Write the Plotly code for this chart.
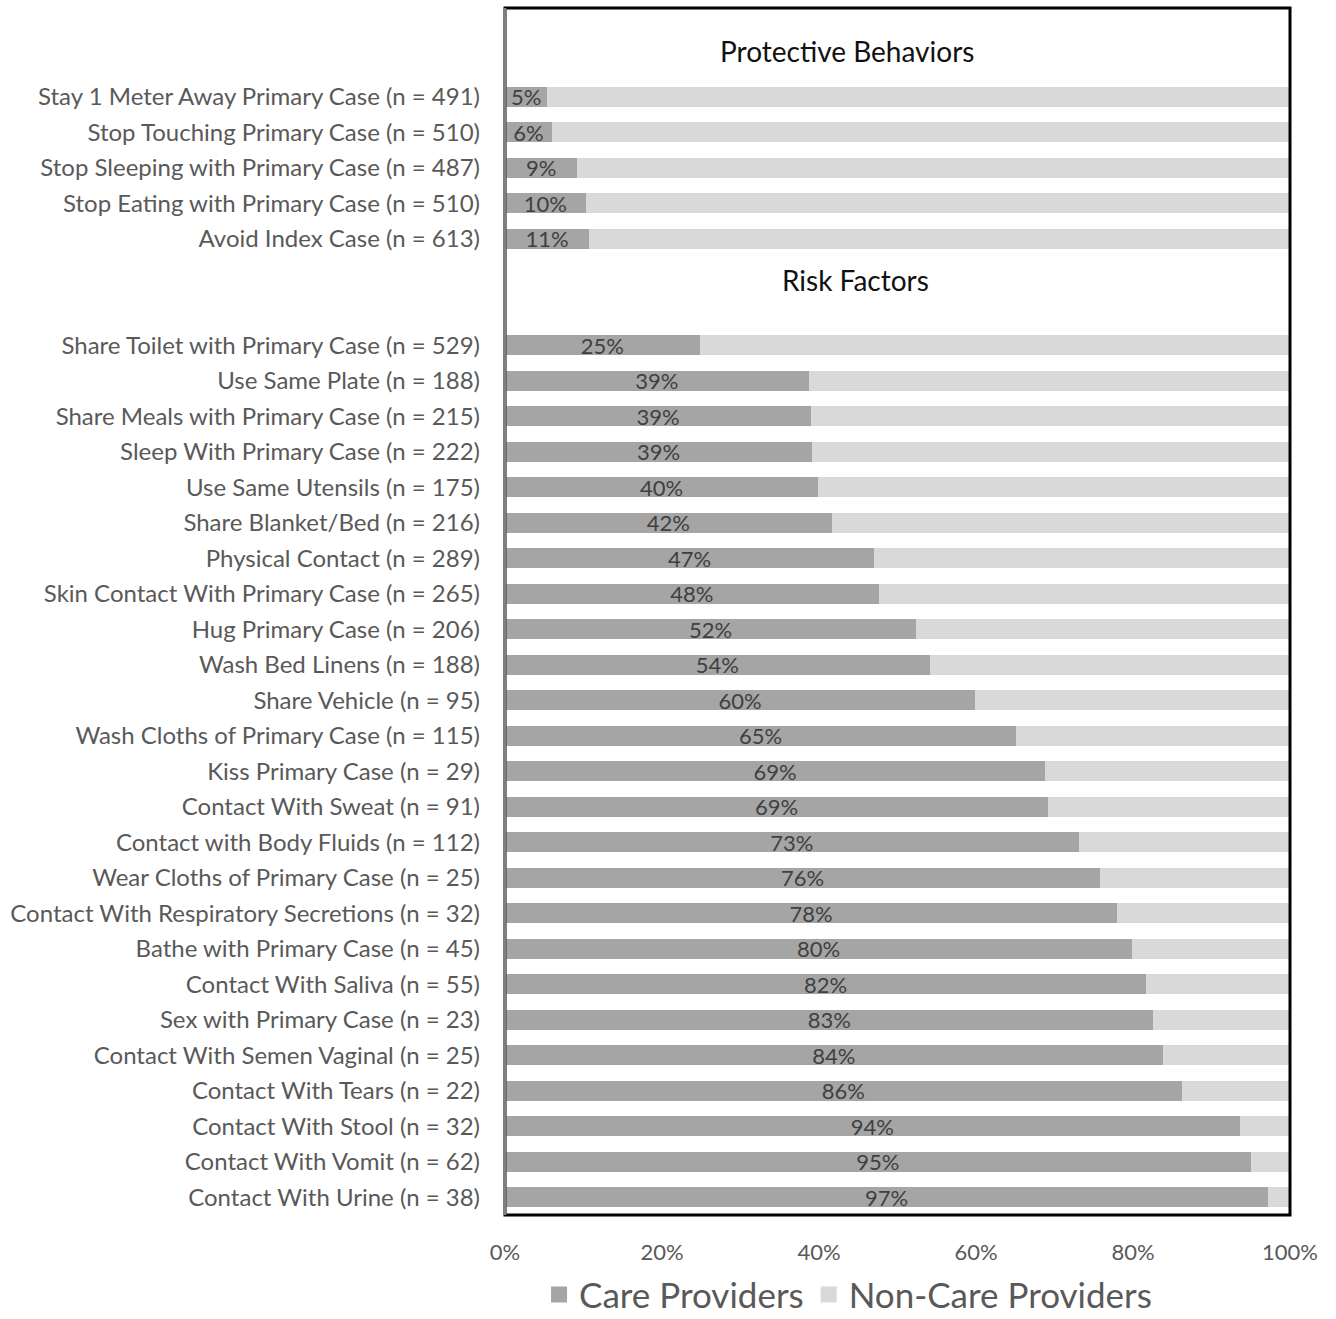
import plotly.graph_objects as go

protective_labels = [
    "Stay 1 Meter Away Primary Case (n = 491)",
    "Stop Touching Primary Case (n = 510)",
    "Stop Sleeping with Primary Case (n = 487)",
    "Stop Eating with Primary Case (n = 510)",
    "Avoid Index Case (n = 613)",
]
protective_care = [5.4, 6.0, 9.2, 10.3, 10.7]

risk_labels = [
    "Share Toilet with Primary Case (n = 529)",
    "Use Same Plate (n = 188)",
    "Share Meals with Primary Case (n = 215)",
    "Sleep With Primary Case (n = 222)",
    "Use Same Utensils (n = 175)",
    "Share Blanket/Bed (n = 216)",
    "Physical Contact (n = 289)",
    "Skin Contact With Primary Case (n = 265)",
    "Hug Primary Case (n = 206)",
    "Wash Bed Linens (n = 188)",
    "Share Vehicle (n = 95)",
    "Wash Cloths of Primary Case (n = 115)",
    "Kiss Primary Case (n = 29)",
    "Contact With Sweat (n = 91)",
    "Contact with Body Fluids (n = 112)",
    "Wear Cloths of Primary Case (n = 25)",
    "Contact With Respiratory Secretions (n = 32)",
    "Bathe with Primary Case (n = 45)",
    "Contact With Saliva (n = 55)",
    "Sex with Primary Case (n = 23)",
    "Contact With Semen Vaginal (n = 25)",
    "Contact With Tears (n = 22)",
    "Contact With Stool (n = 32)",
    "Contact With Vomit (n = 62)",
    "Contact With Urine (n = 38)",
]
risk_care = [24.8, 38.7, 39.0, 39.1, 39.9, 41.6, 47.0, 47.6, 52.4, 54.1,
             59.9, 65.1, 68.8, 69.2, 73.1, 75.8, 78.0, 79.9, 81.7, 82.6,
             83.8, 86.2, 93.6, 95.0, 97.2]

section_titles = ["Protective Behaviors", "Risk Factors"]
series_names = ["Care Providers", "Non-Care Providers"]
x_ticks = [0, 20, 40, 60, 80, 100]

# layout of rows: 2 blank rows, protective, 2 blank rows, risk
labels = protective_labels + risk_labels
care = protective_care + risk_care
y_pos = list(range(2, 2 + len(protective_labels))) + \
    list(range(2 + len(protective_labels) + 2, 2 + len(protective_labels) + 2 + len(risk_labels)))
n_rows = y_pos[-1] + 1
non_care = [100 - v for v in care]
care_text = [f"{round(v)}%" for v in care]

CARE_COLOR = "#a5a5a5"
NONCARE_COLOR = "#d9d9d9"
FONT = "Lato"

fig = go.Figure()
fig.add_trace(go.Bar(
    y=y_pos, x=care, orientation="h", name=series_names[0], showlegend=False,
    marker=dict(color=CARE_COLOR, line=dict(width=0)),
    text=care_text, textposition="inside", insidetextanchor="middle",
    textangle=0, constraintext="none",
    textfont=dict(family=FONT, size=22, color="#404040"),
))
fig.add_trace(go.Bar(
    y=y_pos, x=non_care, orientation="h", name=series_names[1], showlegend=False,
    marker=dict(color=NONCARE_COLOR, line=dict(width=0)),
    hoverinfo="skip",
))
# legend entries
for name, col in zip(series_names, [CARE_COLOR, NONCARE_COLOR]):
    fig.add_trace(go.Scatter(
        x=[None], y=[None], mode="markers", name=name,
        marker=dict(symbol="square", size=22, color=col),
    ))

fig.add_annotation(x=43.6, y=0.72, xref="x", yref="y", text=section_titles[0],
                   showarrow=False, font=dict(family=FONT, size=28, color="#111111"))
fig.add_annotation(x=44.6, y=7.15, xref="x", yref="y", text=section_titles[1],
                   showarrow=False, font=dict(family=FONT, size=28, color="#111111"))

fig.add_shape(type="rect", xref="paper", yref="paper", x0=0, y0=0, x1=1, y1=1,
              line=dict(color="black", width=3), layer="above")
fig.add_shape(type="line", xref="paper", yref="paper", x0=0, y0=0, x1=0, y1=1,
              line=dict(color="#808080", width=3), layer="above")

fig.update_layout(
    width=1336, height=1319,
    margin=dict(l=505, r=46, t=8, b=104, autoexpand=False),
    barmode="stack", bargap=0.43,
    plot_bgcolor="white", paper_bgcolor="white",
    font=dict(family=FONT, color="#595959"),
    showlegend=True,
    legend=dict(orientation="h", x=0.437, xanchor="center", y=-0.066, yanchor="middle",
                font=dict(family=FONT, size=35, color="#595959"),
                itemwidth=30, traceorder="normal", bgcolor="rgba(0,0,0,0)",
                borderwidth=0, tracegroupgap=0),
)
fig.update_xaxes(range=[0, 100], tickvals=x_ticks, ticktext=[f"{t}%" for t in x_ticks],
                 showgrid=False, zeroline=False, ticks="",
                 tickfont=dict(family=FONT, size=22, color="#595959"),
                 ticklabelstandoff=22)
fig.update_yaxes(range=[n_rows - 0.5, -0.5], tickvals=y_pos, ticktext=labels,
                 showgrid=False, zeroline=False, ticks="",
                 tickfont=dict(family=FONT, size=24, color="#595959"),
                 ticklabelstandoff=24)

fig.write_html("out.html")
